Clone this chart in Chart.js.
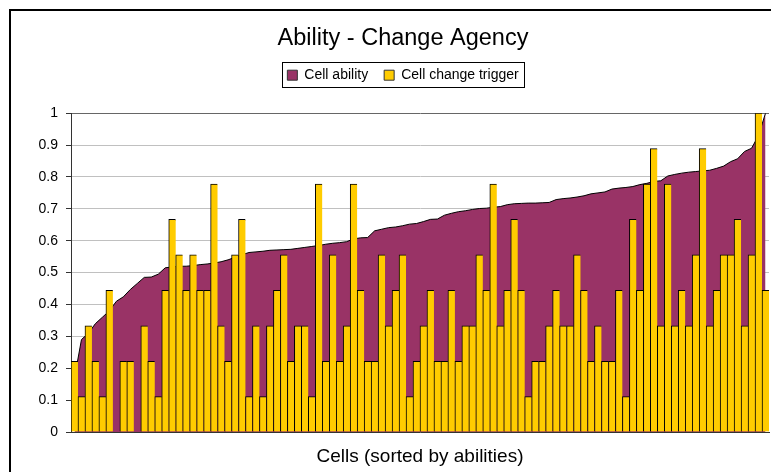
<!DOCTYPE html>
<html>
<head>
<meta charset="utf-8">
<title>Ability - Change Agency</title>
<script src="https://cdn.jsdelivr.net/npm/chart.js@4.4.1/dist/chart.umd.min.js"></script>
<style>
  html, body { margin: 0; padding: 0; background: #fff; overflow: hidden; }
  canvas { display: block; }
</style>
</head>
<body>
<canvas id="myChart" width="806" height="472"></canvas>
<script>
// cell ability, sorted ascending (area)
const abilities = [
    0.17, 0.29, 0.31, 0.34, 0.36, 0.38, 0.41, 0.424, 0.447, 0.466,
    0.485, 0.486, 0.495, 0.515, 0.518, 0.52, 0.52, 0.522, 0.525, 0.527,
    0.53, 0.534, 0.54, 0.548, 0.556, 0.563, 0.565, 0.567, 0.57, 0.571,
    0.572, 0.573, 0.576, 0.579, 0.582, 0.585, 0.589, 0.592, 0.594, 0.597,
    0.606, 0.609, 0.61, 0.631, 0.636, 0.641, 0.643, 0.647, 0.652, 0.654,
    0.66, 0.667, 0.668, 0.68, 0.686, 0.691, 0.694, 0.698, 0.701, 0.702,
    0.705, 0.707, 0.713, 0.716, 0.717, 0.718, 0.718, 0.719, 0.72, 0.729,
    0.732, 0.734, 0.737, 0.741, 0.747, 0.75, 0.753, 0.762, 0.765, 0.767,
    0.77, 0.776, 0.78, 0.786, 0.788, 0.803, 0.808, 0.812, 0.815, 0.817,
    0.819, 0.821, 0.827, 0.834, 0.848, 0.857, 0.88, 0.89, 0.93, 1.0,
];

// cell change trigger (bars)
const triggers = [
    0.222, 0.111, 0.333, 0.222, 0.111, 0.444, 0, 0.222, 0.222, 0,
    0.333, 0.222, 0.111, 0.444, 0.667, 0.556, 0.444, 0.556, 0.444, 0.444,
    0.778, 0.333, 0.222, 0.556, 0.667, 0.111, 0.333, 0.111, 0.333, 0.444,
    0.556, 0.222, 0.333, 0.333, 0.111, 0.778, 0.222, 0.556, 0.222, 0.333,
    0.778, 0.444, 0.222, 0.222, 0.556, 0.333, 0.444, 0.556, 0.111, 0.222,
    0.333, 0.444, 0.222, 0.222, 0.444, 0.222, 0.333, 0.333, 0.556, 0.444,
    0.778, 0.333, 0.444, 0.667, 0.444, 0.111, 0.222, 0.222, 0.333, 0.444,
    0.333, 0.333, 0.556, 0.444, 0.222, 0.333, 0.222, 0.222, 0.444, 0.111,
    0.667, 0.444, 0.778, 0.889, 0.333, 0.778, 0.333, 0.444, 0.333, 0.556,
    0.889, 0.333, 0.444, 0.556, 0.556, 0.667, 0.333, 0.556, 1, 0.444,
];

const cells = abilities.map((_, i) => i + 1);
const yTicks = [0, 0.1, 0.2, 0.3, 0.4, 0.5, 0.6, 0.7, 0.8, 0.9, 1];

Chart.defaults.font.family = "'Liberation Sans', Arial, sans-serif";
Chart.defaults.color = "#000";

// outer frame of the chart (only left and top are inside the picture)
const frame = {
    id: "frame",
    beforeDraw(chart) {
        const { ctx, width, height } = chart;
        ctx.save();
        ctx.fillStyle = "#fff";
        ctx.fillRect(0, 0, width, height);
        ctx.strokeStyle = "#000";
        ctx.lineWidth = 2;
        ctx.beginPath();
        ctx.moveTo(10, height);
        ctx.lineTo(10, 10);
        ctx.lineTo(width, 10);
        ctx.stroke();
        ctx.restore();
    },
};

// extra room under the legend and a box round it
const legendBox = {
    id: "legendBox",
    beforeLayout(chart) {
        const legend = chart.legend;
        if (legend && !legend._patched) {
            const fit = legend.fit;
            legend.fit = function () {
                fit.call(this);
                this.height += 21;
            };
            legend._patched = true;
        }
    },
    afterDraw(chart) {
        const hb = chart.legend.legendHitBoxes;
        if (!hb || !hb.length) return;
        const left = Math.min(...hb.map((h) => h.left)) - 5;
        const right = Math.max(...hb.map((h) => h.left + h.width)) + 6;
        const top = hb[0].top - 6;
        const bottom = hb[0].top + hb[0].height + 5;
        const ctx = chart.ctx;
        ctx.save();
        ctx.strokeStyle = "#000";
        ctx.lineWidth = 1;
        ctx.strokeRect(Math.round(left) + 0.5, Math.round(top) + 0.5,
            Math.round(right - left), Math.round(bottom - top));
        ctx.restore();
    },
};

const ctx = document.getElementById("myChart").getContext("2d");

const myChart = new Chart(ctx, {
    data: {
        labels: cells,
        datasets: [
            {
                type: "line",
                label: "Cell ability",
                data: abilities,
                fill: "origin",
                backgroundColor: "#993366",
                borderColor: "#000",
                borderWidth: 1,
                pointRadius: 0,
                pointHoverRadius: 0,
                tension: 0,
                order: 2,
            },
            {
                type: "bar",
                label: "Cell change trigger",
                data: triggers,
                backgroundColor: "#FFCC00",
                borderColor: "#000",
                borderWidth: { top: 1, left: 1, right: 0, bottom: 0 },
                borderSkipped: false,
                barPercentage: 1,
                categoryPercentage: 1,
                order: 1,
            },
        ],
    },
    options: {
        responsive: false,
        animation: false,
        layout: { padding: 0 },
        plugins: {
            title: {
                display: true,
                text: "Ability - Change Agency",
                font: { size: 23.5, weight: "normal" },
                padding: { top: 24, bottom: 0 },
            },
            legend: {
                display: true,
                labels: {
                    boxWidth: 10,
                    boxHeight: 10,
                    padding: 16,
                    font: { size: 14 },
                    sort: (a, b) => a.datasetIndex - b.datasetIndex,
                    generateLabels(chart) {
                        return Chart.defaults.plugins.legend.labels
                            .generateLabels(chart)
                            .map((item) => ({ ...item, lineWidth: 1, strokeStyle: "#333" }));
                    },
                },
            },
            tooltip: { enabled: false },
        },
        scales: {
            x: {
                type: "category",
                offset: true,
                grid: { display: false, drawTicks: false },
                border: { color: "#333", width: 1 },
                ticks: { display: false },
                title: {
                    display: true,
                    text: "Cells (sorted by abilities)",
                    font: { size: 19 },
                    padding: { top: 0, bottom: 4 },
                },
                afterFit(scale) {
                    scale.height = 40;
                },
            },
            y: {
                type: "linear",
                position: "left",
                min: 0,
                max: 1,
                afterBuildTicks(scale) {
                    scale.ticks = yTicks.map((v) => ({ value: v }));
                },
                ticks: {
                    font: { size: 14 },
                    padding: 8,
                    callback: (v) => String(v),
                },
                grid: {
                    color: (c) => (c.tick && c.tick.value === 1 ? "#666" : "#c0c0c0"),
                    tickColor: "#333",
                    tickLength: 5,
                    drawTicks: true,
                },
                border: { color: "#333", width: 1 },
                afterFit(scale) {
                    scale.width = 71;
                },
            },
            yR: {
                type: "linear",
                position: "right",
                display: true,
                grid: { display: false, drawTicks: false },
                border: { display: false },
                ticks: { display: false },
                afterFit(scale) {
                    scale.width = 37;
                },
            },
        },
    },
    plugins: [frame, legendBox],
});
</script>
</body>
</html>
